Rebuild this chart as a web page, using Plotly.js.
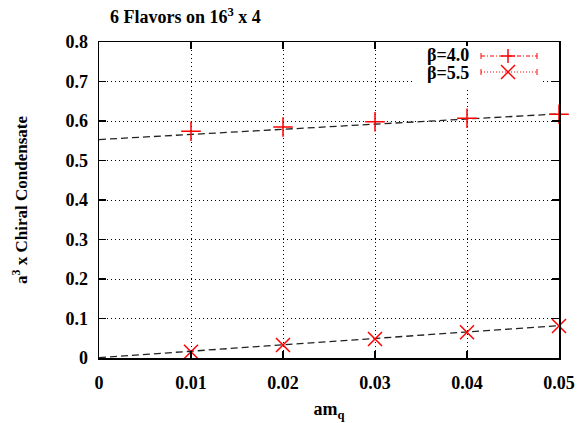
<!DOCTYPE html>
<html><head><meta charset="utf-8">
<script src="https://cdn.plot.ly/plotly-3.0.1.min.js"></script>
<style>html,body{margin:0;padding:0;background:#fff}#c{width:581px;height:423px}</style>
</head><body><div id="c"></div>
<script>
const amq = [0.01, 0.02, 0.03, 0.04, 0.05];
const beta40 = [0.574, 0.585, 0.598, 0.607, 0.617];
const beta55 = [0.016, 0.033, 0.048, 0.065, 0.081];
const fitX = [0, 0.05];
const fit40 = [0.553, 0.618];
const fit55 = [0.001, 0.082];
const xTicks = [0, 0.01, 0.02, 0.03, 0.04, 0.05];
const xTickText = ['0', '0.01', '0.02', '0.03', '0.04', '0.05'];
const yTicks = [0, 0.1, 0.2, 0.3, 0.4, 0.5, 0.6, 0.7, 0.8];
const yTickText = ['0', '0.1', '0.2', '0.3', '0.4', '0.5', '0.6', '0.7', '0.8'];
const labels = ['β=4.0', 'β=5.5'];

const F = 'Liberation Serif, Times New Roman, serif';
const RED = '#ff0000';
const traces = [
  {x: fitX, y: fit40, mode: 'lines', line: {color: '#222', width: 1.3, dash: '7px,4px'}, showlegend: false, hoverinfo: 'skip'},
  {x: fitX, y: fit55, mode: 'lines', line: {color: '#222', width: 1.3, dash: '7px,4px'}, showlegend: false, hoverinfo: 'skip'},
  {x: amq, y: beta40, name: labels[0], mode: 'markers', marker: {symbol: 'cross-thin', size: 14, line: {color: RED, width: 1.5}}, showlegend: false, cliponaxis: false},
  {x: amq, y: beta55, name: labels[1], mode: 'markers', marker: {symbol: 'x-thin', size: 14, line: {color: RED, width: 1.5}}, showlegend: false, cliponaxis: false}
];

// plot-area pixel helpers for the hand-drawn legend key (decoration only)
const L = 99, R = 559, T = 42, B = 358;
const px = v => (v - L) / (R - L);
const py = v => (B - v) / (B - T);
function key(row, dash, sym) {
  const y = py(row);
  const s = [];
  s.push({type: 'line', xref: 'paper', yref: 'paper', x0: px(481), x1: px(537), y0: y, y1: y, line: {color: RED, width: 1, dash: dash}, layer: 'above'});
  s.push({type: 'line', xref: 'paper', yref: 'paper', xsizemode: 'pixel', ysizemode: 'pixel', xanchor: px(481), yanchor: y, x0: 0, x1: 0, y0: -3, y1: 3, line: {color: RED, width: 1}, layer: 'above'});
  s.push({type: 'line', xref: 'paper', yref: 'paper', xsizemode: 'pixel', ysizemode: 'pixel', xanchor: px(537), yanchor: y, x0: 0, x1: 0, y0: -3, y1: 3, line: {color: RED, width: 1}, layer: 'above'});
  const h = 7;
  if (sym === '+') {
    s.push({type: 'line', xref: 'paper', yref: 'paper', xsizemode: 'pixel', ysizemode: 'pixel', xanchor: px(508), yanchor: y, x0: -h, x1: h, y0: 0, y1: 0, line: {color: RED, width: 1.5}, layer: 'above'});
    s.push({type: 'line', xref: 'paper', yref: 'paper', xsizemode: 'pixel', ysizemode: 'pixel', xanchor: px(508), yanchor: y, x0: 0, x1: 0, y0: -h, y1: h, line: {color: RED, width: 1.5}, layer: 'above'});
  } else {
    s.push({type: 'line', xref: 'paper', yref: 'paper', xsizemode: 'pixel', ysizemode: 'pixel', xanchor: px(508), yanchor: y, x0: -h, x1: h, y0: -h, y1: h, line: {color: RED, width: 1.5}, layer: 'above'});
    s.push({type: 'line', xref: 'paper', yref: 'paper', xsizemode: 'pixel', ysizemode: 'pixel', xanchor: px(508), yanchor: y, x0: -h, x1: h, y0: h, y1: -h, line: {color: RED, width: 1.5}, layer: 'above'});
  }
  return s;
}
const shapes = [
  {type: 'rect', xref: 'paper', yref: 'paper', x0: px(414), x1: px(541), y0: py(88), y1: py(46), fillcolor: '#fff', line: {width: 0}, layer: 'above'}
].concat(key(56, '4px,2px,1px,2px', '+'), key(72, '1px,2px', 'x'));

const axisCommon = {
  showline: true, linecolor: '#000', linewidth: 1.5, mirror: 'ticks',
  ticks: 'inside', ticklen: 7, tickwidth: 1.2, tickcolor: '#000',
  showgrid: true, gridcolor: '#000', gridwidth: 1, griddash: '1px,3px',
  zeroline: false, tickfont: {family: F, size: 18, color: '#000'}
};
const b = s => '<b>' + s + '</b>';
const layout = {
  width: 581, height: 423,
  margin: {l: 99, r: 22, t: 42, b: 65},
  paper_bgcolor: '#fff', plot_bgcolor: '#fff',
  title: {text: b('6 Flavors on 16<sup>3</sup> x 4'), font: {family: F, size: 18, color: '#000'}, x: 110/581, xanchor: 'left', y: 1 - 17/423, yanchor: 'middle'},
  xaxis: Object.assign({}, axisCommon, {range: [0, 0.05], tickvals: xTicks, ticktext: xTickText.map(b), ticklabelstandoff: 8,
    title: {text: b('am<sub>q</sub>'), font: {family: F, size: 18, color: '#000'}, standoff: 10}}),
  yaxis: Object.assign({}, axisCommon, {range: [0, 0.8], tickvals: yTicks, ticktext: yTickText.map(b), ticklabelstandoff: 6,
    title: {text: b('a<sup>3</sup> x Chiral Condensate'), font: {family: F, size: 17, color: '#000'}, standoff: 33}}),
  annotations: [
    {text: b(labels[0]), xref: 'paper', yref: 'paper', x: px(471), y: py(55), xanchor: 'right', yanchor: 'middle', showarrow: false, font: {family: F, size: 18, color: '#000'}},
    {text: b(labels[1]), xref: 'paper', yref: 'paper', x: px(471), y: py(73), xanchor: 'right', yanchor: 'middle', showarrow: false, font: {family: F, size: 18, color: '#000'}}
  ],
  shapes: shapes,
  showlegend: false
};
Plotly.newPlot('c', traces, layout, {displayModeBar: false, staticPlot: true});
</script></body></html>
